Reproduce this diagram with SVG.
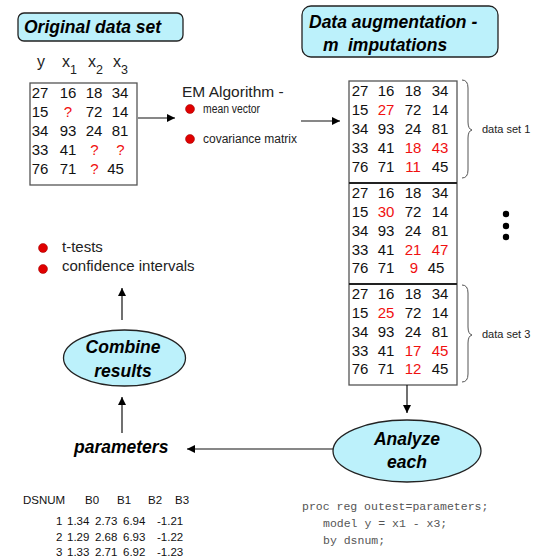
<svg xmlns="http://www.w3.org/2000/svg" width="537" height="558" viewBox="0 0 537 558">
<defs>
<marker id="ah" viewBox="0 0 10 10" refX="10" refY="5" markerWidth="9" markerHeight="8" markerUnits="userSpaceOnUse" orient="auto">
<path d="M0,0 L10,5 L0,10 z" fill="#000"/>
</marker>
<style>
.title{font-family:"Liberation Sans",Arial,sans-serif;font-weight:bold;font-style:italic;font-size:17.5px;fill:#000}
.box{fill:#bcf1fb;stroke:#222;stroke-width:1.3}
.tbl{fill:#fff;stroke:#555;stroke-width:1.3}
.num{font-family:"Liberation Sans",Arial,sans-serif;font-size:15px;fill:#111;text-anchor:middle}
.red{fill:#f01010}
.lbl{font-family:"Liberation Sans",Arial,sans-serif;fill:#222}
.conn{stroke:#111;stroke-width:1.2;fill:none}
.brace{stroke:#555;stroke-width:1;fill:none}
.dot{fill:#e00000;stroke:#900;stroke-width:0.5}
.mono{font-family:"Liberation Mono","Courier New",monospace;font-size:11.5px;fill:#555}
.sm{font-family:"Liberation Sans",Arial,sans-serif;font-size:11.5px;fill:#111}
</style>
</defs>

<g id="original-title">
<rect class="box" x="18" y="13" width="165" height="28" rx="6"/>
<text class="title" x="24" y="33">Original data set</text>
</g>

<g id="original-headers" class="lbl" font-size="16">
<text x="37" y="67">y</text>
<text x="62" y="67">x<tspan font-size="12.5" dy="7">1</tspan></text>
<text x="88" y="67">x<tspan font-size="12.5" dy="7">2</tspan></text>
<text x="113" y="67">x<tspan font-size="12.5" dy="7">3</tspan></text>
</g>

<g id="original-table">
<rect class="tbl" x="30" y="83" width="107" height="102"/>
<text class="num" x="40" y="98">27</text><text class="num" x="68" y="98">16</text><text class="num" x="94" y="98">18</text><text class="num" x="120" y="98">34</text>
<text class="num" x="40" y="117">15</text><text class="num red" x="68" y="117">?</text><text class="num" x="94" y="117">72</text><text class="num" x="120" y="117">14</text>
<text class="num" x="40" y="136">34</text><text class="num" x="68" y="136">93</text><text class="num" x="94" y="136">24</text><text class="num" x="120" y="136">81</text>
<text class="num" x="40" y="155">33</text><text class="num" x="68" y="155">41</text><text class="num red" x="94.5" y="155">?</text><text class="num red" x="120.5" y="155">?</text>
<text class="num" x="40" y="174">76</text><text class="num" x="68" y="174">71</text><text class="num red" x="94.5" y="174">?</text><text class="num" x="115.5" y="174">45</text>
</g>

<g id="em-algorithm">
<text class="lbl" x="182" y="97" font-size="15.5">EM Algorithm -</text>
<circle class="dot" cx="190" cy="109" r="4.5"/>
<text class="lbl" x="203" y="113" font-size="12" textLength="57" lengthAdjust="spacingAndGlyphs">mean vector</text>
<circle class="dot" cx="190" cy="139" r="4.5"/>
<text class="lbl" x="203" y="143" font-size="12" textLength="94" lengthAdjust="spacingAndGlyphs">covariance matrix</text>
</g>

<g id="augment-title">
<rect class="box" x="302" y="6" width="196" height="51" rx="9"/>
<text class="title" x="309" y="28">Data augmentation -</text>
<text class="title" x="323" y="51">m</text>
<text class="title" x="348" y="51">imputations</text>
</g>

<g id="imputed-sets">
<rect class="tbl" x="349" y="81" width="108" height="304"/>
<line x1="349" y1="183" x2="457" y2="183" stroke="#222" stroke-width="2.2"/>
<line x1="349" y1="284" x2="457" y2="284" stroke="#222" stroke-width="2.2"/>
<text class="num" x="360" y="96">27</text><text class="num" x="386" y="96">16</text><text class="num" x="413" y="96">18</text><text class="num" x="440" y="96">34</text>
<text class="num" x="360" y="115">15</text><text class="num red" x="386" y="115">27</text><text class="num" x="413" y="115">72</text><text class="num" x="440" y="115">14</text>
<text class="num" x="360" y="134">34</text><text class="num" x="386" y="134">93</text><text class="num" x="413" y="134">24</text><text class="num" x="440" y="134">81</text>
<text class="num" x="360" y="153">33</text><text class="num" x="386" y="153">41</text><text class="num red" x="413" y="153">18</text><text class="num red" x="440" y="153">43</text>
<text class="num" x="360" y="172">76</text><text class="num" x="386" y="172">71</text><text class="num red" x="413" y="172">11</text><text class="num" x="440" y="172">45</text>

<text class="num" x="360" y="198">27</text><text class="num" x="386" y="198">16</text><text class="num" x="413" y="198">18</text><text class="num" x="440" y="198">34</text>
<text class="num" x="360" y="217">15</text><text class="num red" x="386" y="217">30</text><text class="num" x="413" y="217">72</text><text class="num" x="440" y="217">14</text>
<text class="num" x="360" y="236">34</text><text class="num" x="386" y="236">93</text><text class="num" x="413" y="236">24</text><text class="num" x="440" y="236">81</text>
<text class="num" x="360" y="254.5">33</text><text class="num" x="386" y="254.5">41</text><text class="num red" x="413" y="254.5">21</text><text class="num red" x="440" y="254.5">47</text>
<text class="num" x="360" y="273">76</text><text class="num" x="386" y="273">71</text><text class="num red" x="414" y="273">9</text><text class="num" x="436" y="273">45</text>

<text class="num" x="360" y="299">27</text><text class="num" x="386" y="299">16</text><text class="num" x="413" y="299">18</text><text class="num" x="440" y="299">34</text>
<text class="num" x="360" y="318">15</text><text class="num red" x="386" y="318">25</text><text class="num" x="413" y="318">72</text><text class="num" x="440" y="318">14</text>
<text class="num" x="360" y="337">34</text><text class="num" x="386" y="337">93</text><text class="num" x="413" y="337">24</text><text class="num" x="440" y="337">81</text>
<text class="num" x="360" y="355.5">33</text><text class="num" x="386" y="355.5">41</text><text class="num red" x="413" y="355.5">17</text><text class="num red" x="440" y="355.5">45</text>
<text class="num" x="360" y="374">76</text><text class="num" x="386" y="374">71</text><text class="num red" x="413" y="374">12</text><text class="num" x="440" y="374">45</text>
</g>

<g id="brace-1">
<path class="brace" d="M462,80 Q468,80 468,88 L468,122 Q468,129 472,130 Q468,131 468,138 L468,170 Q468,178 462,178"/>
<text class="lbl" x="482" y="133" font-size="11">data set 1</text>
</g>

<g id="brace-3">
<path class="brace" d="M462,285 Q468,285 468,293 L468,327 Q468,334 472,335 Q468,336 468,343 L468,374 Q468,382 462,382"/>
<text class="lbl" x="482" y="338" font-size="11">data set 3</text>
</g>

<g id="ellipsis-dots" fill="#000">
<circle cx="506" cy="214" r="3.2"/>
<circle cx="506" cy="226" r="3.2"/>
<circle cx="506" cy="237" r="3.2"/>
</g>

<g id="analyze-each">
<ellipse class="box" cx="407" cy="451" rx="74" ry="31" stroke-width="1.6"/>
<text class="title" x="407" y="445" text-anchor="middle">Analyze</text>
<text class="title" x="407" y="468" text-anchor="middle">each</text>
</g>

<g id="parameters">
<text class="title" x="74" y="453">parameters</text>
</g>

<g id="combine-results">
<ellipse class="box" cx="124.5" cy="358" rx="61" ry="28" stroke-width="1.6"/>
<text class="title" x="123" y="353" text-anchor="middle">Combine</text>
<text class="title" x="123" y="377" text-anchor="middle">results</text>
</g>

<g id="outputs">
<circle class="dot" cx="43" cy="248" r="4.5"/>
<text class="lbl" x="62" y="252" font-size="15">t-tests</text>
<circle class="dot" cx="43" cy="269" r="4.5"/>
<text class="lbl" x="62" y="271" font-size="15">confidence intervals</text>
</g>

<g id="estimates-table" class="sm">
<text x="23" y="504">DSNUM</text>
<text x="85" y="504">B0</text><text x="117" y="504">B1</text><text x="148" y="504">B2</text><text x="175" y="504">B3</text>
<text x="56" y="525">1</text><text x="67" y="525">1.34</text><text x="95" y="525">2.73</text><text x="123" y="525">6.94</text><text x="157" y="525">-1.21</text>
<text x="56" y="541">2</text><text x="67" y="541">1.29</text><text x="95" y="541">2.68</text><text x="123" y="541">6.93</text><text x="157" y="541">-1.22</text>
<text x="56" y="556">3</text><text x="67" y="556">1.33</text><text x="95" y="556">2.71</text><text x="123" y="556">6.92</text><text x="157" y="556">-1.23</text>
</g>

<g id="sas-code" class="mono">
<text x="302" y="510">proc reg outest=parameters;</text>
<text x="323" y="527">model y = x1 - x3;</text>
<text x="323" y="544">by dsnum;</text>
</g>

<g id="connectors">
<line class="conn" x1="138" y1="118" x2="175" y2="118" marker-end="url(#ah)"/>
<line class="conn" x1="301" y1="121" x2="340" y2="121" marker-end="url(#ah)"/>
<line class="conn" x1="407" y1="385" x2="407" y2="413" marker-end="url(#ah)"/>
<line class="conn" x1="333" y1="449" x2="187" y2="449" marker-end="url(#ah)"/>
<line class="conn" x1="122" y1="433" x2="122" y2="397" marker-end="url(#ah)"/>
<line class="conn" x1="122" y1="320" x2="122" y2="288" marker-end="url(#ah)"/>
</g>
</svg>
